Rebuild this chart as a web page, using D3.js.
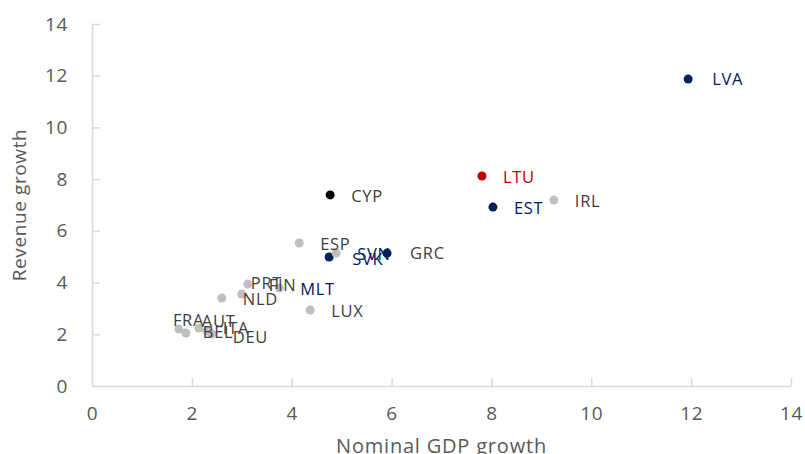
<!DOCTYPE html>
<html>
<head>
<meta charset="utf-8">
<script src="https://cdn.jsdelivr.net/npm/d3@7"></script>
<style>
body { margin: 0; background: #fff; }
svg { display: block; font-family: "Open Sans", sans-serif; }
</style>
</head>
<body>
<svg id="chart" width="805" height="454"></svg>
<script>
// DATA
const countries = ["LVA", "LTU", "EST", "IRL", "CYP", "ESP", "SVK", "SVN", "GRC", "LUX",
  "MLT", "FIN", "PRT", "NLD", "FRA", "BEL", "AUT", "ITA", "DEU"];
const gdpGrowth = [11.94, 7.81, 8.03, 9.25, 4.77, 4.15, 4.75, 4.89, 5.91, 4.37,
  3.75, 3.12, 3.00, 2.60, 1.74, 1.88, 2.14, 2.30, 2.40];
const revenueGrowth = [11.87, 8.12, 6.92, 7.19, 7.39, 5.53, 4.99, 5.14, 5.14, 2.94,
  3.79, 3.94, 3.56, 3.40, 2.20, 2.05, 2.24, 2.13, 2.01];
// marker group and label group (they differ for SVN / GRC in the original)
const markerGroup = ["nms", "ltu", "nms", "other", "cyp", "other", "nms", "other", "nms", "other",
  "other", "other", "other", "other", "other", "other", "other", "other", "other"];
const labelGroup = ["nms", "ltu", "nms", "other", "other", "other", "nms", "nms", "other", "other",
  "nms", "other", "other", "other", "other", "other", "other", "other", "other"];
const xTicks = [0, 2, 4, 6, 8, 10, 12, 14];
const yTicks = [0, 2, 4, 6, 8, 10, 12, 14];

// label nudges (px) where the labels were moved by hand
const nudge = {
  LVA: [24, 0], GRC: [23, 0], SVN: [21, 1], SVK: [23, 2], PRT: [9, -11],
  FRA: [-6, -9], BEL: [17, -1], AUT: [3, -7], ITA: [16, -3], DEU: [21, 3]
};

const markerColor = d3.scaleOrdinal().domain(["nms", "ltu", "cyp", "other"])
  .range(["#002060", "#C00000", "#000000", "#BFBFBF"]);
const labelColor = d3.scaleOrdinal().domain(["nms", "ltu", "other"])
  .range(["#002060", "#C00000", "#404040"]);

const points = countries.map((c, i) => ({
  name: c, x: gdpGrowth[i], y: revenueGrowth[i], mg: markerGroup[i], lg: labelGroup[i]
}));

const svg = d3.select("#chart");

// SCALES
let x = d3.scaleLinear().domain([0, 14]).range([92, 791]);
let y = d3.scaleLinear().domain([0, 14]).range([386, 24]);

// AXES
let xAxis = svg.append("g")
  .attr("transform", `translate(0,${y(0)})`)
  .call(d3.axisBottom(x).tickValues(xTicks).tickSizeInner(-8).tickSizeOuter(0).tickPadding(21));

let yAxis = svg.append("g")
  .attr("transform", `translate(${x(0)},0)`)
  .call(d3.axisLeft(y).tickValues(yTicks).tickSizeInner(-8).tickSizeOuter(0).tickPadding(24));

[xAxis, yAxis].forEach(a => {
  a.select(".domain").attr("stroke", "#D9D9D9").attr("stroke-width", 1.5);
  a.selectAll(".tick line").attr("stroke", "#D9D9D9").attr("stroke-width", 1.5);
  a.selectAll(".tick text")
    .attr("fill", "#595959")
    .style("font-size", "19px")
    .style("letter-spacing", "0.6px")
    .style("font-family", "'Open Sans', sans-serif");
});
xAxis.selectAll(".tick").filter(d => d === 0).select("line").remove();
yAxis.selectAll(".tick").filter(d => d === 0).select("line").remove();

// AXIS TITLES
svg.append("text")
  .attr("x", (x(0) + x(14)) / 2)
  .attr("y", 453)
  .attr("text-anchor", "middle")
  .attr("fill", "#595959")
  .style("font-size", "20px")
  .style("letter-spacing", "0.8px")
  .text("Nominal GDP growth");

svg.append("text")
  .attr("transform", `translate(26,${(y(0) + y(14)) / 2}) rotate(-90)`)
  .attr("text-anchor", "middle")
  .attr("fill", "#595959")
  .style("font-size", "19px")
  .style("letter-spacing", "0.6px")
  .text("Revenue growth");

// POINTS
svg.append("g").selectAll("circle")
  .data(points)
  .enter()
  .append("circle")
  .attr("cx", d => x(d.x))
  .attr("cy", d => y(d.y))
  .attr("r", 4.5)
  .attr("fill", d => markerColor(d.mg));

// LABELS
svg.append("g").selectAll("text")
  .data(points)
  .enter()
  .append("text")
  .attr("x", d => x(d.x) + (nudge[d.name] ? nudge[d.name][0] : 21))
  .attr("y", d => y(d.y) + (nudge[d.name] ? nudge[d.name][1] : 1))
  .attr("dy", "0.35em")
  .attr("fill", d => labelColor(d.lg))
  .style("font-size", "16.5px")
  .style("letter-spacing", "0.7px")
  .text(d => d.name);
</script>
</body>
</html>
